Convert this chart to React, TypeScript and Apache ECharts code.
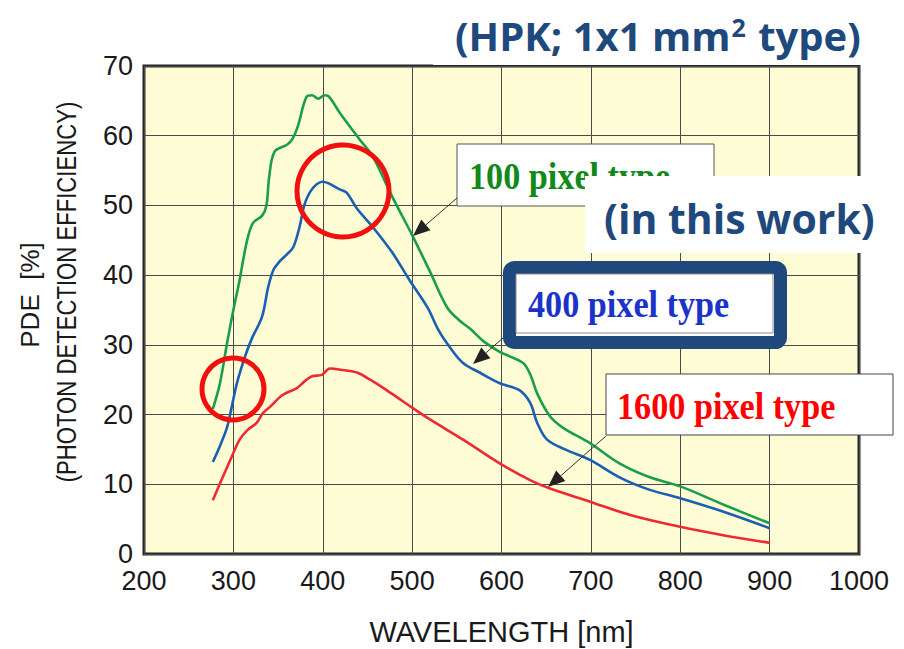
import React, { useEffect, useRef } from "react";
import * as echarts from "echarts";

// ---- data (wavelength nm, PDE %) ----
const xTicks = [200, 300, 400, 500, 600, 700, 800, 900, 1000];
const yTicks = [0, 10, 20, 30, 40, 50, 60, 70];

const pixel100: [number, number][] = [
  [277, 20.8], [285, 24.5], [293, 30.3], [300, 35], [307, 39.3], [311, 42.2], [316, 45.3],
  [322, 47.5], [332, 48.5], [337, 50], [340, 54], [346, 57.7], [360, 58.7], [366, 59.5],
  [372, 61.3], [382, 65.6], [388, 65.8], [395, 65.3], [402, 65.8], [407, 65.6], [419, 63.3],
  [441, 59.5], [456, 57], [478, 51.2], [501, 45.5], [520, 40.5], [539, 35.4], [552, 33.6],
  [565, 32.3], [580, 30.5], [598, 29], [612, 28.2], [625, 27.3], [633, 25.5], [640, 23],
  [654, 19.8], [669, 18.1], [699, 15.9], [732, 13], [766, 11], [800, 9.7], [850, 7], [900, 4.4],
];

const pixel400: [number, number][] = [
  [277, 13.2], [285, 15.5], [293, 18.2], [298, 21], [304, 24.5], [313, 28.3], [321, 31],
  [332, 34], [339, 38.3], [345, 40.8], [352, 42], [360, 43], [367, 44], [374, 46.9],
  [380, 50.3], [389, 52.5], [400, 53.4], [406, 53.2], [419, 52.3], [427, 51.8], [438, 49.6],
  [456, 46.9], [478, 43.2], [497, 39.3], [517, 35.4], [530, 32], [542, 29.7], [557, 27.4],
  [576, 26], [598, 24.5], [620, 23.5], [632, 21.7], [640, 18.8], [651, 16.4], [673, 14.9],
  [699, 13.5], [732, 11], [766, 9.2], [800, 8], [850, 6], [900, 3.7],
];

const pixel1600: [number, number][] = [
  [277, 7.7], [288, 11], [300, 14.5], [307, 16.4], [316, 17.8], [326, 18.8], [333, 20.2],
  [341, 21.1], [355, 22.8], [371, 23.8], [380, 24.8], [388, 25.5], [399, 25.7], [408, 26.6],
  [422, 26.4], [439, 26], [453, 25], [468, 23.8], [483, 22.5], [500, 21], [520, 19.3],
  [557, 16.4], [598, 13], [632, 10.6], [652, 9.5], [699, 7.5], [744, 5.6], [800, 3.9],
  [848, 2.7], [900, 1.6],
];

const seriesNames = ["100 pixel type", "400 pixel type", "1600 pixel type"];
const titleMain = "(HPK; 1x1 mm";
const titleSup = "2";
const titleEnd = " type)";
const noteText = "(in this work)";
const yName1 = "PDE  [%]";
const yName2 = "(PHOTON DETECTION EFFICIENCY)";
const xName = "WAVELENGTH [nm]";

function arrow(x1: number, y1: number, x2: number, y2: number, color: string) {
  const dx = x2 - x1;
  const dy = y2 - y1;
  const len = Math.sqrt(dx * dx + dy * dy);
  const ux = dx / len;
  const uy = dy / len;
  const hl = 17;
  const hw = 7;
  const bx = x2 - ux * hl;
  const by = y2 - uy * hl;
  const px = -uy * hw;
  const py = ux * hw;
  return [
    {
      type: "line",
      shape: { x1, y1, x2: bx, y2: by },
      style: { stroke: "#333", lineWidth: 1 },
      z: 20,
    },
    {
      type: "polygon",
      shape: { points: [[x2, y2], [bx + px, by + py], [bx - px, by - py]] },
      style: { fill: color },
      z: 20,
    },
  ];
}

export default function App() {
  const ref = useRef<HTMLDivElement>(null);
  useEffect(() => {
    document.body.style.margin = "0";
    const chart = echarts.init(ref.current!, null, { renderer: "svg" });
    const serif = "'Liberation Serif', 'Times New Roman', serif";
    const sans = "'Liberation Sans', Arial, sans-serif";
    const calib = "'Open Sans', Lato, sans-serif";
    const lineSeries = (name: string, data: [number, number][], color: string) => ({
      name,
      type: "line",
      data,
      showSymbol: false,
      smooth: 0.35,
      lineStyle: { color, width: 2.6 },
      z: 5,
    });
    const option: any = {
      animation: false,
      backgroundColor: "#ffffff",
      grid: {
        left: 144,
        top: 66,
        right: 45,
        bottom: 95,
        outerBoundsMode: "none",
        containLabel: false,
        show: true,
        backgroundColor: "#fdfcd5",
        borderColor: "#262626",
        borderWidth: 3,
      },
      xAxis: {
        type: "value",
        min: xTicks[0],
        max: xTicks[xTicks.length - 1],
        interval: 100,
        name: xName,
        nameLocation: "middle",
        nameGap: 63,
        nameTextStyle: { fontFamily: sans, fontSize: 29, color: "#1a1a1a" },
        axisLine: { show: false },
        axisTick: { show: false },
        axisLabel: {
          fontFamily: sans,
          fontSize: 27,
          color: "#1a1a1a",
          margin: 13,
          formatter: (v: number) => String(v),
        },
        splitLine: { show: true, lineStyle: { color: "#4a4a4a", width: 1 } },
      },
      yAxis: {
        type: "value",
        min: yTicks[0],
        max: yTicks[yTicks.length - 1],
        interval: 10,
        axisLine: { show: false },
        axisTick: { show: false },
        axisLabel: { fontFamily: sans, fontSize: 27, color: "#1a1a1a", margin: 11 },
        splitLine: { show: true, lineStyle: { color: "#4a4a4a", width: 1 } },
      },
      series: [
        lineSeries(seriesNames[0], pixel100, "#1b9e4b"),
        lineSeries(seriesNames[1], pixel400, "#1a5fb4"),
        lineSeries(seriesNames[2], pixel1600, "#ec2a32"),
      ],
      graphic: [
        // cover top-right strip above the plot
        { type: "rect", shape: { x: 433, y: 0, width: 471, height: 65 }, style: { fill: "#ffffff" }, z: 10 },
        {
          type: "text",
          x: 455,
          y: 35,
          z: 11,
          style: {
            text: `{a|${titleMain}}{s|${titleSup}}{a|${titleEnd}}`,
            verticalAlign: "middle",
            rich: {
              a: { fontFamily: calib, fontWeight: "bold", fontSize: 40, fill: "#1f497d" },
              s: { fontFamily: calib, fontWeight: "bold", fontSize: 25, fill: "#1f497d", verticalAlign: "top", padding: [0, 2, 17, 1] },
            },
          },
        },
        // y axis names
        {
          type: "text",
          x: 30,
          y: 295,
          rotation: Math.PI / 2,
          z: 11,
          style: { text: yName1, fontFamily: sans, fontSize: 26, fill: "#1a1a1a", align: "center", verticalAlign: "middle" },
        },
        {
          type: "text",
          x: 67,
          y: 292,
          rotation: Math.PI / 2,
          scaleX: 0.82,
          z: 11,
          style: { text: yName2, fontFamily: sans, fontSize: 27, fill: "#1a1a1a", align: "center", verticalAlign: "middle" },
        },
        // 100 pixel label
        { type: "rect", shape: { x: 457, y: 144, width: 257, height: 62 }, style: { fill: "#ffffff", stroke: "#555", lineWidth: 1 }, z: 12 },
        {
          type: "text",
          x: 469,
          y: 176,
          z: 13,
          scaleX: 0.9,
          style: { text: seriesNames[0], fontFamily: serif, fontWeight: "bold", fontSize: 38, fill: "#118a1a", verticalAlign: "middle" },
        },
        ...arrow(457, 198, 413, 236, "#222"),
        // in this work
        { type: "rect", shape: { x: 585, y: 176, width: 305, height: 77 }, style: { fill: "#ffffff" }, z: 14 },
        {
          type: "text",
          x: 604,
          y: 218,
          z: 15,
          style: { text: noteText, fontFamily: calib, fontWeight: "bold", fontSize: 41, fill: "#1f497d", verticalAlign: "middle" },
        },
        // 400 pixel label
        { type: "rect", shape: { x: 509.5, y: 267.5, width: 271, height: 75, r: 5 }, style: { fill: "#ffffff", stroke: "#1f497d", lineWidth: 13 }, z: 12 },
        { type: "rect", shape: { x: 516, y: 274, width: 257, height: 59 }, style: { fill: "#ffffff", stroke: "#8a8a8a", lineWidth: 1 }, z: 13 },
        {
          type: "text",
          x: 528,
          y: 304,
          z: 14,
          scaleX: 0.9,
          style: { text: seriesNames[1], fontFamily: serif, fontWeight: "bold", fontSize: 38, fill: "#1c33c8", verticalAlign: "middle" },
        },
        ...arrow(503, 338, 473, 364, "#222"),
        // 1600 pixel label
        { type: "rect", shape: { x: 606, y: 374, width: 287, height: 61 }, style: { fill: "#ffffff", stroke: "#444", lineWidth: 1 }, z: 12 },
        {
          type: "text",
          x: 617,
          y: 406,
          z: 13,
          scaleX: 0.9,
          style: { text: seriesNames[2], fontFamily: serif, fontWeight: "bold", fontSize: 38, fill: "#ff0000", verticalAlign: "middle" },
        },
        ...arrow(606, 436, 548, 487, "#222"),
        // red circles
        { type: "circle", shape: { cx: 343, cy: 191, r: 46 }, style: { fill: "none", stroke: "#f01010", lineWidth: 5 }, z: 16 },
        { type: "circle", shape: { cx: 233, cy: 389, r: 31 }, style: { fill: "none", stroke: "#f01010", lineWidth: 5 }, z: 16 },
      ],
    };
    chart.setOption(option);
    return () => chart.dispose();
  }, []);
  return <div ref={ref} style={{ width: 904, height: 649 }} />;
}
